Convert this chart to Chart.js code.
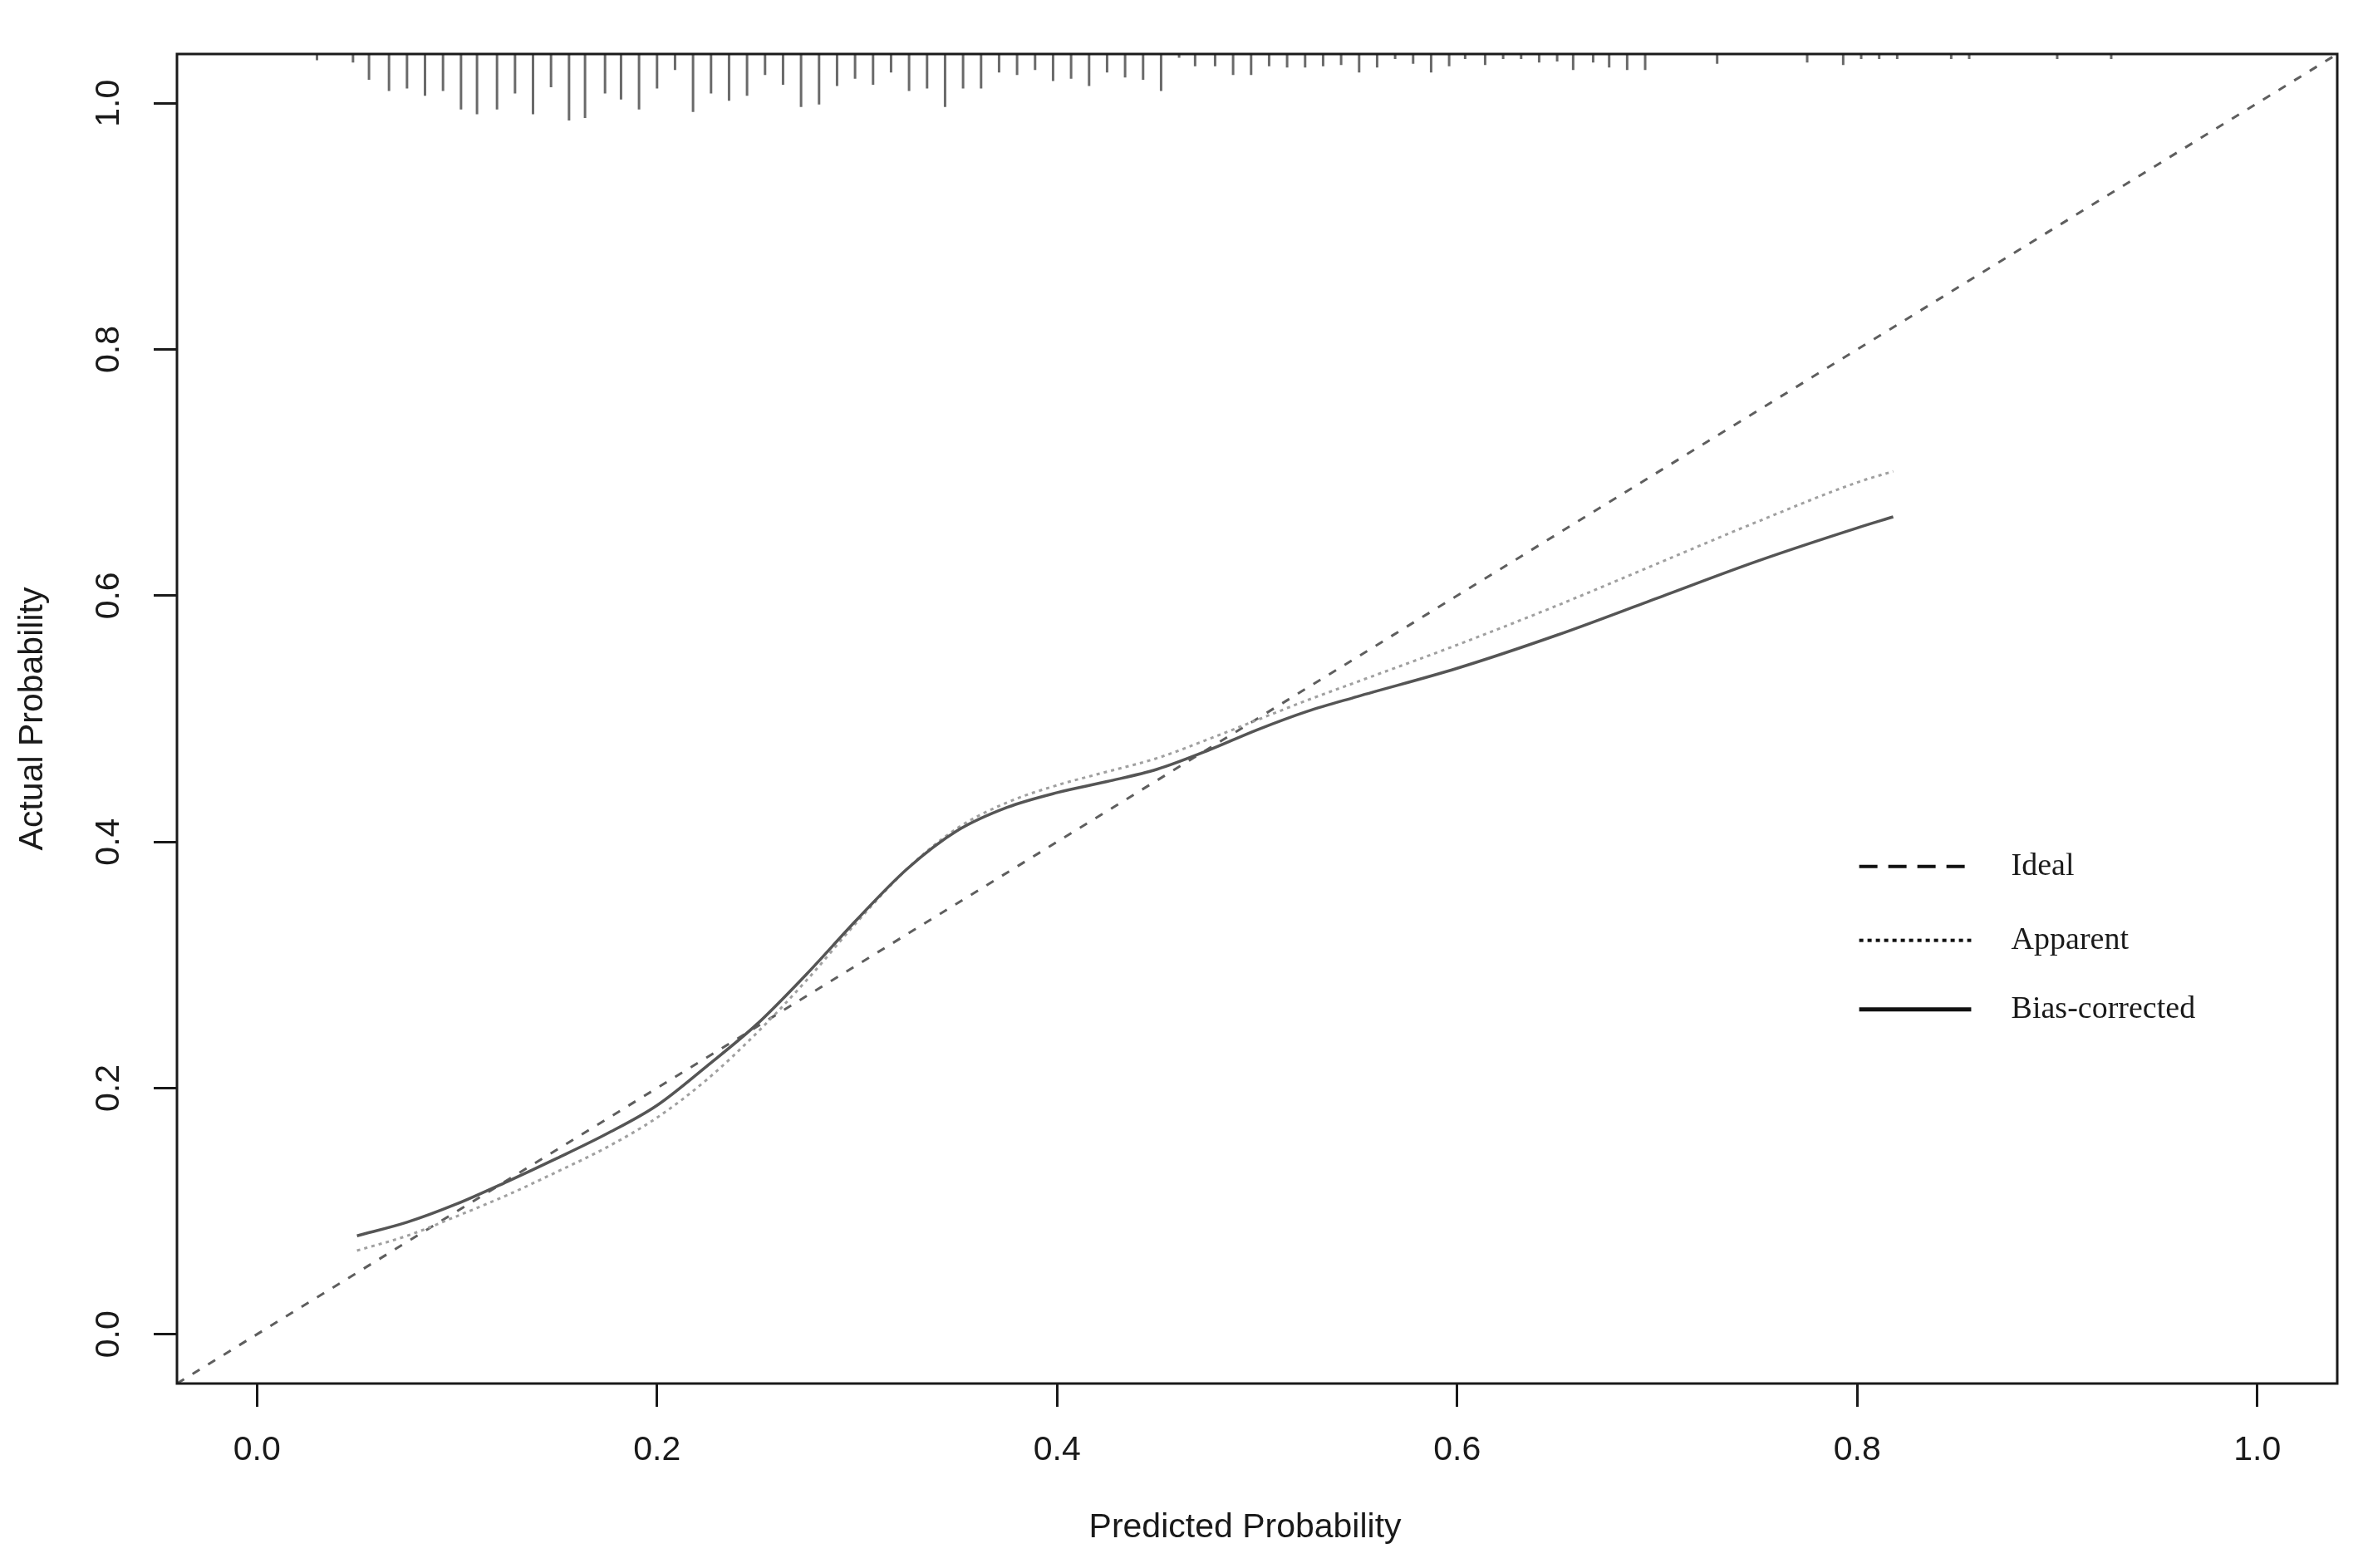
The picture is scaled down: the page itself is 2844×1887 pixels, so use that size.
<!DOCTYPE html>
<html>
<head>
<meta charset="utf-8">
<title>Calibration curve</title>
<script src="https://cdn.jsdelivr.net/npm/chart.js@4.4.1/dist/chart.umd.min.js"></script>
<style>
  html, body { margin: 0; padding: 0; background: #fff; }
  canvas { display: block; }
</style>
</head>
<body>
<canvas id="calibration" width="2844" height="1887"></canvas>
<script>
// axis range follows R's 4% extension around 0..1
const axisMin = -0.04;
const axisMax = 1.04;
const tickValues = [0, 0.2, 0.4, 0.6, 0.8, 1.0];
const tickLabels = ['0.0', '0.2', '0.4', '0.6', '0.8', '1.0'];

const idealX = [-0.04, 1.04];
const idealY = [-0.04, 1.04];

const predicted = [0.050, 0.075, 0.100, 0.125, 0.150, 0.175, 0.200, 0.225, 0.250, 0.275, 0.300,
    0.325, 0.350, 0.375, 0.400, 0.425, 0.450, 0.475, 0.500, 0.525, 0.550, 0.600, 0.650,
    0.700, 0.750, 0.800, 0.818];
const apparent = [0.068, 0.080, 0.096, 0.113, 0.132, 0.152, 0.176, 0.207, 0.245, 0.288, 0.335,
    0.378, 0.411, 0.432, 0.446, 0.457, 0.468, 0.483, 0.499, 0.515, 0.530, 0.560, 0.592,
    0.626, 0.660, 0.692, 0.701];
const biasCorrected = [0.080, 0.091, 0.106, 0.124, 0.143, 0.163, 0.186, 0.218, 0.252, 0.293, 0.337,
    0.378, 0.409, 0.428, 0.440, 0.449, 0.459, 0.474, 0.491, 0.506, 0.518, 0.541, 0.568,
    0.598, 0.628, 0.655, 0.664];

// spikes hanging from the top border: position and length (in y units)
const rugX = [0.030, 0.048, 0.056, 0.066, 0.075, 0.084, 0.093, 0.102, 0.110, 0.120, 0.129, 0.138,
    0.147, 0.156, 0.164, 0.174, 0.182, 0.191, 0.200, 0.209, 0.218, 0.227, 0.236, 0.245,
    0.254, 0.263, 0.272, 0.281, 0.290, 0.299, 0.308, 0.317, 0.326, 0.335, 0.344, 0.353,
    0.362, 0.371, 0.380, 0.389, 0.398, 0.407, 0.416, 0.425, 0.434, 0.443, 0.452, 0.461,
    0.469, 0.479, 0.488, 0.497, 0.506, 0.515, 0.524, 0.533, 0.542, 0.551, 0.560, 0.569,
    0.578, 0.587, 0.596, 0.604, 0.614, 0.623, 0.632, 0.641, 0.650, 0.658, 0.668, 0.676,
    0.685, 0.694, 0.730, 0.775, 0.793, 0.802, 0.811, 0.820, 0.847, 0.856, 0.900, 0.927];
const rugLen = [0.005, 0.007, 0.021, 0.030, 0.028, 0.034, 0.030, 0.045, 0.049, 0.045, 0.032, 0.049,
    0.027, 0.054, 0.052, 0.032, 0.037, 0.045, 0.028, 0.013, 0.047, 0.032, 0.038, 0.034,
    0.017, 0.025, 0.043, 0.041, 0.026, 0.020, 0.025, 0.015, 0.030, 0.028, 0.043, 0.028,
    0.028, 0.015, 0.017, 0.013, 0.022, 0.020, 0.026, 0.015, 0.019, 0.021, 0.030, 0.003,
    0.010, 0.010, 0.017, 0.017, 0.010, 0.011, 0.011, 0.010, 0.009, 0.015, 0.011, 0.004,
    0.008, 0.015, 0.010, 0.004, 0.009, 0.004, 0.004, 0.007, 0.006, 0.013, 0.007, 0.011,
    0.013, 0.013, 0.008, 0.007, 0.009, 0.004, 0.004, 0.004, 0.004, 0.004, 0.004, 0.004];

const legendLabels = ['Ideal', 'Apparent', 'Bias-corrected'];
const xTitle = 'Predicted Probability';

const INK = '#1a1a1a';
const SANS = '"Liberation Sans", Arial, sans-serif';

function toPoints(xs, ys) {
    return xs.map((x, i) => ({ x, y: ys[i] }));
}

function rugPoints() {
    const points = [];
    rugX.forEach((x, i) => {
        points.push({ x, y: axisMax });
        points.push({ x, y: axisMax - rugLen[i] });
        points.push({ x, y: null });
    });
    return points;
}

// box, rotated y tick labels, x title and the in-plot legend
const framePlugin = {
    id: 'frame',
    afterDraw(chart, args, opts) {
        const { ctx, chartArea, scales } = chart;
        ctx.save();

        ctx.strokeStyle = INK;
        ctx.lineWidth = 3;
        ctx.strokeRect(chartArea.left, chartArea.top,
            chartArea.right - chartArea.left, chartArea.bottom - chartArea.top);

        ctx.fillStyle = INK;
        ctx.font = '41px ' + SANS;
        ctx.textAlign = 'center';
        ctx.textBaseline = 'middle';
        tickValues.forEach((v, i) => {
            ctx.save();
            ctx.translate(chartArea.left - 81, scales.y.getPixelForValue(v));
            ctx.rotate(-Math.PI / 2);
            ctx.fillText(tickLabels[i], 0, 0);
            ctx.restore();
        });

        // R centres the title a little left of the box centre here
        ctx.fillText(xTitle, scales.x.getPixelForValue(opts.xTitleAt), chart.height - 48);

        const lg = opts.legend;
        const x0 = scales.x.getPixelForValue(lg.lineFrom);
        const x1 = scales.x.getPixelForValue(lg.lineTo);
        const tx = scales.x.getPixelForValue(lg.textAt);
        ctx.font = '38px "Liberation Serif", "Times New Roman", serif';
        ctx.textAlign = 'left';
        legendLabels.forEach((label, i) => {
            const y = scales.y.getPixelForValue(lg.rows[i]);
            const style = lg.styles[i];
            ctx.beginPath();
            ctx.setLineDash(style.dash);
            ctx.lineWidth = style.width;
            ctx.strokeStyle = '#111';
            ctx.moveTo(x0, y);
            ctx.lineTo(x1, y);
            ctx.stroke();
            ctx.fillText(label, tx, y);
        });
        ctx.restore();
    },
};

new Chart(document.getElementById('calibration'), {
    type: 'line',
    data: {
        datasets: [
            {
                label: 'Bias-corrected',
                data: toPoints(predicted, biasCorrected),
                borderColor: '#555555',
                borderWidth: 3.5,
                cubicInterpolationMode: 'monotone',
            },
            {
                label: 'Apparent',
                data: toPoints(predicted, apparent),
                borderColor: '#a0a0a0',
                borderWidth: 3,
                borderDash: [4, 5],
                cubicInterpolationMode: 'monotone',
            },
            {
                label: 'Ideal',
                data: toPoints(idealX, idealY),
                borderColor: '#5e5e5e',
                borderWidth: 3,
                borderDash: [10, 12],
            },
            {
                label: 'rug',
                data: rugPoints(),
                borderColor: '#6a6a6a',
                borderWidth: 3,
                spanGaps: false,
            },
        ],
    },
    options: {
        responsive: false,
        devicePixelRatio: 1,
        animation: false,
        events: [],
        layout: { padding: { left: 0, right: 31, top: 65, bottom: 0 } },
        elements: { point: { radius: 0 }, line: { fill: false } },
        plugins: {
            legend: { display: false },
            tooltip: { enabled: false },
            frame: {
                xTitleAt: 0.494,
                legend: {
                    lineFrom: 0.801,
                    lineTo: 0.857,
                    textAt: 0.877,
                    rows: [0.380, 0.320, 0.264],
                    styles: [
                        { dash: [22, 13], width: 4 },
                        { dash: [5, 5], width: 4 },
                        { dash: [], width: 5 },
                    ],
                },
            },
        },
        scales: {
            x: {
                type: 'linear',
                min: axisMin,
                max: axisMax,
                afterBuildTicks: (scale) => { scale.ticks = tickValues.map((v) => ({ value: v })); },
                afterFit: (scale) => { scale.height = 222; },
                ticks: {
                    callback: (value, index) => tickLabels[index],
                    font: { family: SANS, size: 41 },
                    color: INK,
                    padding: 28,
                    maxRotation: 0,
                    autoSkip: false,
                },
                grid: { display: true, drawOnChartArea: false, drawTicks: true, tickLength: 28, color: INK, lineWidth: 3 },
                border: { display: false },
            },
            y: {
                type: 'linear',
                min: axisMin,
                max: axisMax,
                afterBuildTicks: (scale) => { scale.ticks = tickValues.map((v) => ({ value: v })); },
                afterFit: (scale) => { scale.width = 213; },
                ticks: { display: false },
                grid: { display: true, drawOnChartArea: false, drawTicks: true, tickLength: 28, color: INK, lineWidth: 3 },
                border: { display: false },
                title: {
                    display: true,
                    text: 'Actual Probability',
                    font: { family: SANS, size: 41 },
                    color: INK,
                    padding: { top: 15, bottom: 0 },
                },
            },
        },
    },
    plugins: [framePlugin],
});
</script>
</body>
</html>
